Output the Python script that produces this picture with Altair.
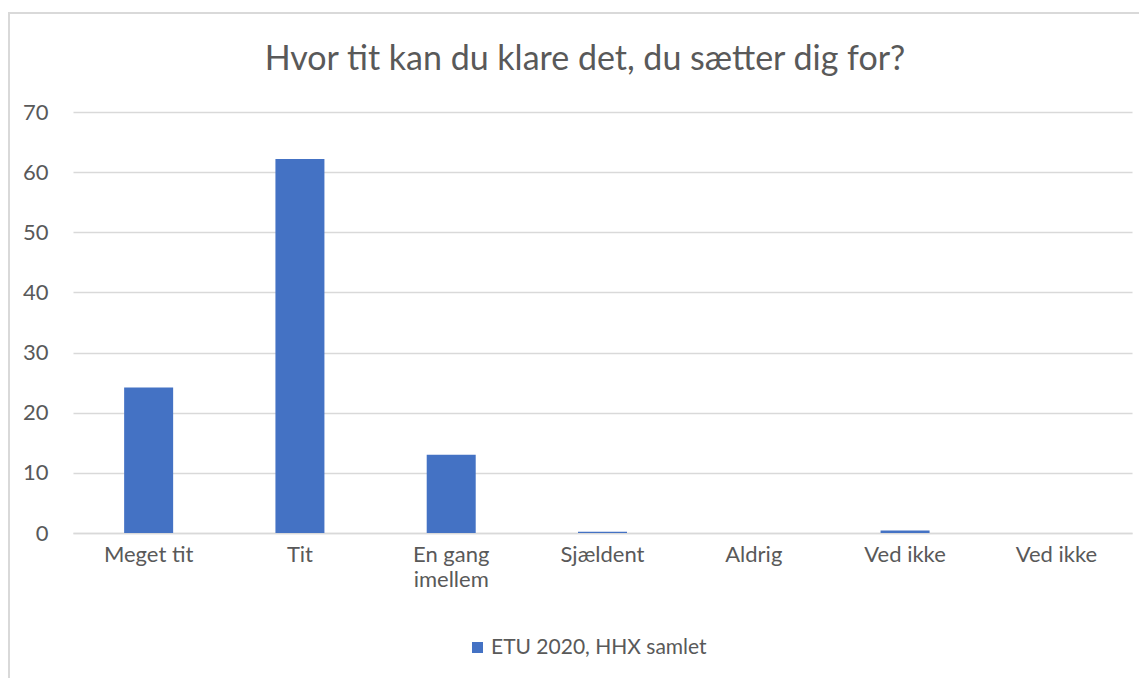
import altair as alt
import pandas as pd
import json

categories = ["Meget tit", "Tit", "En gang imellem", "Sjældent", "Aldrig", "Ved ikke", "Ved ikke"]
label_lines = [["Meget tit"], ["Tit"], ["En gang", "imellem"], ["Sjældent"], ["Aldrig"], ["Ved ikke"], ["Ved ikke"]]
values = [24.2, 62.2, 13.0, 0.2, 0.0, 0.4, 0.0]
series_name = "ETU 2020, HHX samlet"
chart_title = "Hvor tit kan du klare det, du sætter dig for?"
y_ticks = [0, 10, 20, 30, 40, 50, 60, 70]

df = pd.DataFrame({
    "idx": list(range(len(categories))),
    "category": categories,
    "value": values,
    "series": [series_name] * len(categories),
})

FONT = "Lato"
TXT = "#595959"
GRID = "#d9d9d9"
W, H = 1059, 421
FS = 22

label_expr = json.dumps(label_lines, ensure_ascii=False) + "[datum.value]"

bars = alt.Chart(df).mark_bar(color="#4472C4", size=49).encode(
    x=alt.X("idx:O", title=None,
            scale=alt.Scale(paddingInner=0.0, paddingOuter=0.0),
            axis=alt.Axis(labelExpr=label_expr, labelAngle=0, labelFontSize=FS,
                          labelColor=TXT, labelFont=FONT, ticks=False,
                          domainColor=GRID, domainWidth=1.5, labelPadding=11,
                          labelLineHeight=25, grid=False)),
    y=alt.Y("value:Q", title=None,
            scale=alt.Scale(domain=[0, 70], nice=False),
            axis=alt.Axis(values=y_ticks, labelFontSize=FS, labelColor=TXT,
                          labelFont=FONT, ticks=False, domain=False,
                          gridColor=GRID, gridWidth=1.5, labelPadding=25)),
    color=alt.Color("series:N", scale=alt.Scale(range=["#4472C4"]),
                    legend=alt.Legend(title=None, orient="none", legendX=394, legendY=525,
                                      symbolType="square", symbolSize=121,
                                      symbolStrokeWidth=0, labelLimit=400,
                                      labelFontSize=21, labelColor=TXT, labelFont=FONT,
                                      labelOffset=3)),
)

border = alt.Chart(alt.Data(values=[{}])).mark_rect(
    fill=None, stroke=GRID, strokeWidth=2
).encode(
    x=alt.value(-64), x2=alt.value(W + 20),
    y=alt.value(-99), y2=alt.value(H + 200),
)

title = alt.Chart(alt.Data(values=[{"t": chart_title}])).mark_text(
    font=FONT, fontSize=34, color=TXT, align="center", baseline="middle"
).encode(
    text="t:N", x=alt.value(512), y=alt.value(-52),
)

chart = alt.layer(border, title, bars).properties(
    width=W, height=H,
    autosize=alt.AutoSizeParams(type="none"),
    padding={"left": 65, "top": 104, "right": 7, "bottom": 145},
).configure_view(stroke=None)

chart.save("out.html", embed_options={"renderer": "svg", "actions": False})
